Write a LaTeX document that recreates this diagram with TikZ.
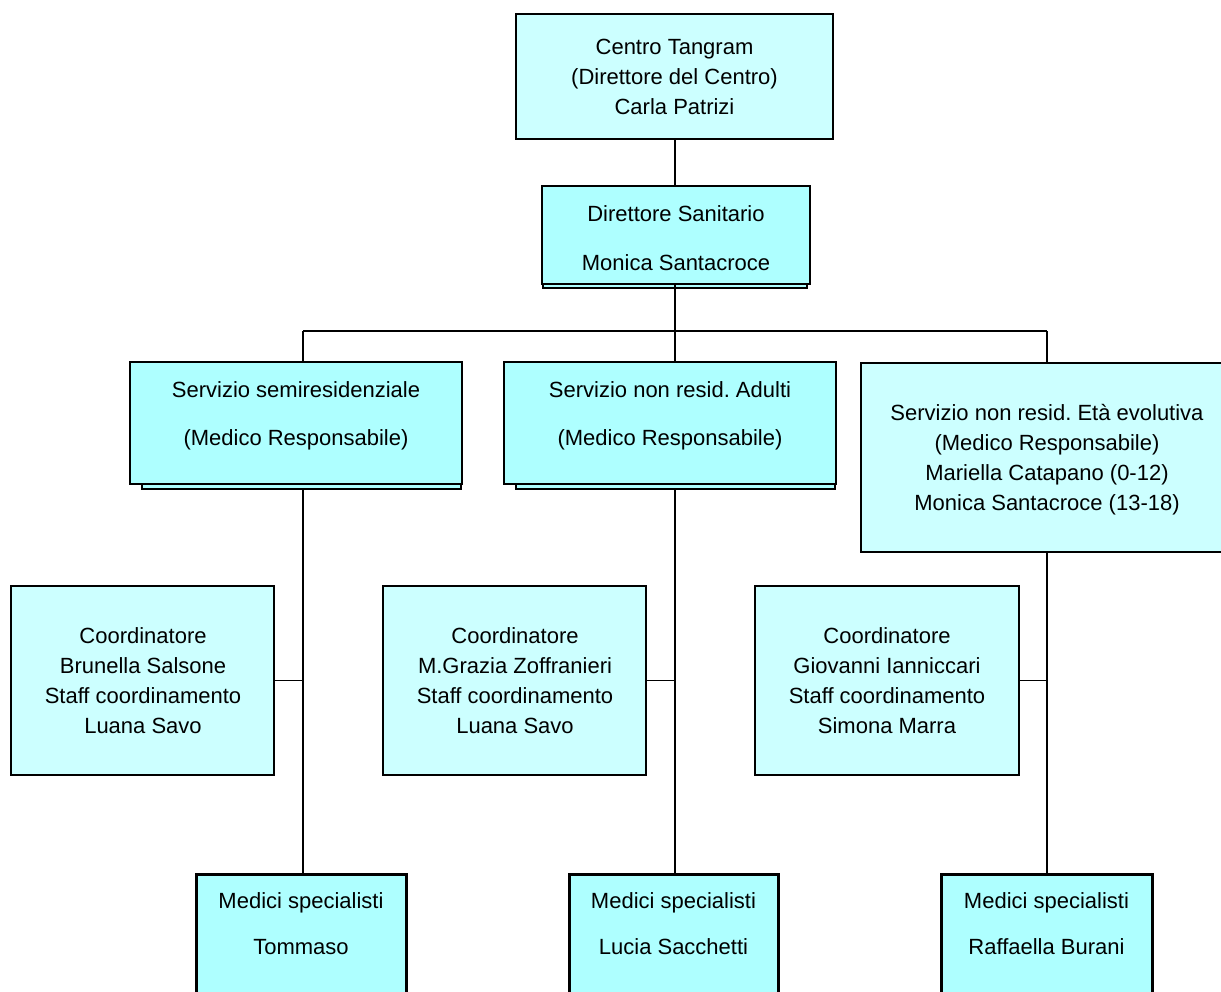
\documentclass[tikz,border=0pt]{standalone}
\usepackage{fontspec}
\setmainfont{Liberation Sans}
\usetikzlibrary{backgrounds}
\frenchspacing
\definecolor{lightc}{HTML}{CCFFFF}
\definecolor{strongc}{HTML}{AEFFFF}
\tikzset{
  thinbox/.style={draw=black, line width=1.2pt, fill=lightc, rectangle, inner sep=0pt, align=center},
  shadbox/.style={draw=black, line width=2pt, fill=strongc, rectangle, inner sep=0pt, align=center},
  medbox/.style={draw=black, line width=3pt, fill=strongc, rectangle, inner sep=0pt, align=center},
  shadowrect/.style={draw=black, line width=1.6pt, fill=strongc},
  txt/.style={align=center, inner sep=0pt, font=\fontsize{22}{30}\selectfont\frenchspacing},
  conn/.style={draw=black, line width=1.3pt}
}
\begin{document}
\begin{tikzpicture}[x=1pt, y=-1pt, font=\fontsize{22}{30}\selectfont]
\useasboundingbox (0,0) rectangle (1221,991);
\clip (0,0) rectangle (1221,991);

% top
\node[thinbox, minimum width=317pt, minimum height=125pt] (t) at (674.5,76.5) {};
\node[txt] at (674.5,77) {Centro Tangram\\(Direttore del Centro)\\Carla Patrizi};

% direttore sanitario
\node[shadbox, minimum width=268pt, minimum height=98pt] (d) at (676,235) {};
\node[txt] at (676,238) {Direttore Sanitario\\[19pt]Monica Santacroce};

% services
\node[shadbox, minimum width=332pt, minimum height=122pt] (s1) at (296,423) {};
\node[txt] at (296,416) {Servizio semiresidenziale\\[18pt](Medico Responsabile)};
\node[shadbox, minimum width=332pt, minimum height=122pt] (s2) at (670,423) {};
\node[txt] at (670,416) {Servizio non resid. Adulti\\[18pt](Medico Responsabile)};
\node[thinbox, minimum width=372pt, minimum height=189pt] (s3) at (1047,457.5) {};
\node[txt] at (1047,460) {Servizio non resid. Età evolutiva\\(Medico Responsabile)\\Mariella Catapano (0-12)\\Monica Santacroce (13-18)};

% coordinators
\node[thinbox, minimum width=263pt, minimum height=189pt] (c1) at (142.5,680.5) {};
\node[txt] at (143,681) {Coordinatore\\Brunella Salsone\\Staff coordinamento\\Luana Savo};
\node[thinbox, minimum width=263pt, minimum height=189pt] (c2) at (514.5,680.5) {};
\node[txt] at (515,681) {Coordinatore\\M.Grazia Zoffranieri\\Staff coordinamento\\Luana Savo};
\node[thinbox, minimum width=264pt, minimum height=189pt] (c3) at (887,680.5) {};
\node[txt] at (887,681) {Coordinatore\\Giovanni Ianniccari\\Staff coordinamento\\Simona Marra};

% medici
\node[medbox, minimum width=210pt, minimum height=160pt, anchor=north] (m1) at (301,873) {};
\node[txt] at (301,924) {Medici specialisti\\[16pt]Tommaso};
\node[medbox, minimum width=209pt, minimum height=160pt, anchor=north] (m2) at (673.5,873) {};
\node[txt] at (673.5,924) {Medici specialisti\\[16pt]Lucia Sacchetti};
\node[medbox, minimum width=211pt, minimum height=160pt, anchor=north] (m3) at (1046.5,873) {};
\node[txt] at (1046.5,924) {Medici specialisti\\[16pt]Raffaella Burani};

% shadows
\begin{pgfonlayer}{background}
\draw[shadowrect] ([xshift=2pt,yshift=-3pt]d.south west) rectangle ([xshift=-4pt,yshift=10pt]d.south east);
\draw[shadowrect] ([xshift=13pt,yshift=-4pt]s1.south west) rectangle ([xshift=-2pt,yshift=10pt]s1.south east);
\draw[shadowrect] ([xshift=13pt,yshift=-4pt]s2.south west) rectangle ([xshift=-2pt,yshift=10pt]s2.south east);
\end{pgfonlayer}

% connectors
\coordinate (j1) at (303,331);
\coordinate (j2) at (675,331);
\coordinate (j3) at (1047,331);
\draw[conn] (t.south -| j2) -- (d.north -| j2);
\draw[conn] (d.south -| j2) -- (j2);
\draw[conn] (j1) -- (j3);
\draw[conn] (j1) -- (s1.north -| j1);
\draw[conn] (j2) -- (s2.north -| j2);
\draw[conn] (j3) -- (s3.north -| j3);
\draw[conn] ([yshift=-4pt]s1.south -| j1) -- (m1.north -| j1);
\draw[conn] ([yshift=-4pt]s2.south -| j2) -- (m2.north -| j2);
\draw[conn] (s3.south -| j3) -- (m3.north -| j3);
\draw[conn] (c1.east) -- (c1.east -| j1);
\draw[conn] (c2.east) -- (c2.east -| j2);
\draw[conn] (c3.east) -- (c3.east -| j3);
\end{tikzpicture}
\end{document}
